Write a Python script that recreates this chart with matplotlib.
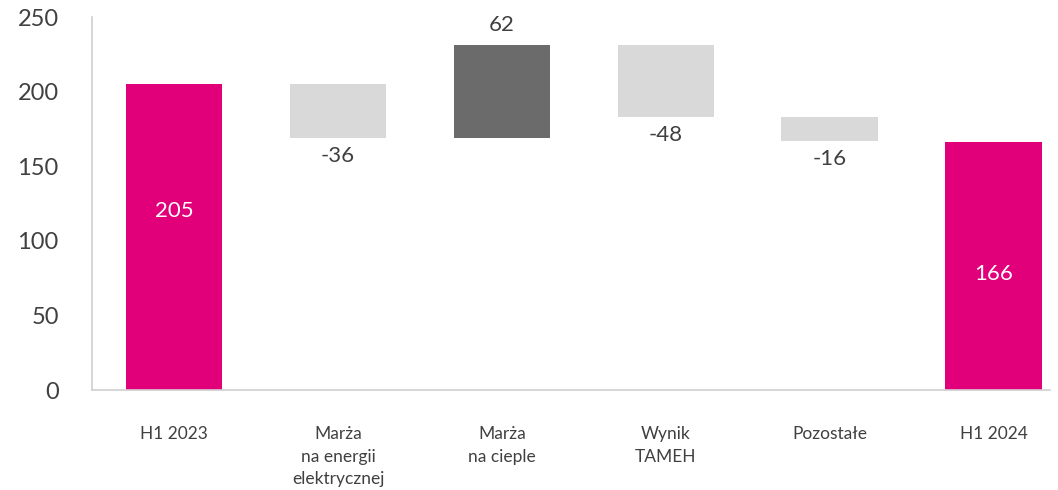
import numpy as np
import matplotlib.pyplot as plt

plt.rcParams['font.family'] = ['Lato', 'DejaVu Sans']

categories = ['H1 2023', 'Marża\nna energii\nelektrycznej', 'Marża\nna cieple',
              'Wynik\nTAMEH', 'Pozostałe', 'H1 2024']
values = [205, -36, 62, -48, -16, 166]
kinds = ['total', 'delta', 'delta', 'delta', 'delta', 'total']

magenta = '#E2007A'
light = '#D9D9D9'
dark = '#6B6B6B'
text_c = '#404040'

# waterfall bottoms / heights
bottoms = []
heights = []
colors = []
running = 0
for v, k in zip(values, kinds):
    if k == 'total':
        bottoms.append(0)
        heights.append(v)
        colors.append(magenta)
        running = v
    else:
        if v >= 0:
            bottoms.append(running)
            colors.append(dark)
        else:
            bottoms.append(running + v)
            colors.append(light)
        heights.append(abs(v))
        running += v

fig = plt.figure(figsize=(10.58, 4.9), dpi=100)
ax = fig.add_axes([0.087, 0.204, 0.905, 0.761])

x = np.arange(len(categories))
ax.bar(x, heights, bottom=bottoms, width=0.59, color=colors, zorder=2)

for i, (v, k) in enumerate(zip(values, kinds)):
    if k == 'total':
        ypos = 120 if i == 0 else 78
        ax.text(i, ypos, str(v), ha='center', va='center', color='white',
                fontsize=16)
    elif v >= 0:
        ax.text(i, bottoms[i] + heights[i] + 14, str(v), ha='center',
                va='center', color=text_c, fontsize=16)
    else:
        ax.text(i, bottoms[i] - 12, str(v), ha='center', va='center',
                color=text_c, fontsize=16)

ax.set_xlim(-0.5, 5.34)
ax.set_ylim(0, 250)
ax.set_yticks([0, 50, 100, 150, 200, 250])
ax.set_xticks(x)
ax.set_xticklabels(categories, fontsize=12.5, color=text_c, linespacing=1.5,
                   va='top')
ax.tick_params(axis='y', length=0, labelsize=17, labelcolor=text_c, pad=24)
ax.tick_params(axis='x', length=0, pad=26)

for s in ['top', 'right']:
    ax.spines[s].set_visible(False)
for s in ['left', 'bottom']:
    ax.spines[s].set_color('#D0D0D0')
    ax.spines[s].set_linewidth(1.2)

fig.savefig('out.png', dpi=100)
